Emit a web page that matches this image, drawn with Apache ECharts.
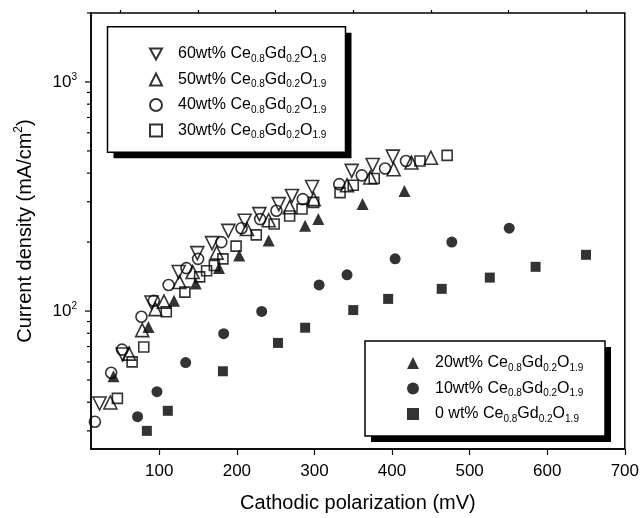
<!DOCTYPE html>
<html><head><meta charset="utf-8">
<script src="https://cdn.jsdelivr.net/npm/echarts@6/dist/echarts.min.js"></script>
<style>html,body{margin:0;padding:0;background:#fff}#c{width:642px;height:518px}</style>
</head><body><div id="c"></div><script>
// ---- data ----
const names = ['60wt% Ce0.8Gd0.2O1.9','50wt% Ce0.8Gd0.2O1.9','40wt% Ce0.8Gd0.2O1.9','30wt% Ce0.8Gd0.2O1.9',
               '20wt% Ce0.8Gd0.2O1.9','10wt% Ce0.8Gd0.2O1.9','0 wt% Ce0.8Gd0.2O1.9'];
const x60 = [23,53,90,125,149,168,189,210,229,254,271,297,348,375,401];
const y60 = [39.5,64.6,109,148,179,198,224,248,265,293,318,348,409,434,472];
const x50 = [37,61,78,95,106,126,143,174,213,241,268,299,342,372,402,425,450];
const y50 = [39.9,65.2,82.6,102,110,134,148,180,228,249,284,308,354,383,416,445,467];
const x40 = [17,38,52,77,93,112,135,150,180,206,230,251,285,332,361,391,418];
const y40 = [32.9,53.8,67.9,94.4,111,130,154,169,200,230,252,274,308,358,391,419,452];
const x30 = [46,65,80,109,133,152,161,171,182,199,225,248,268,284,299,333,350,377,436,471];
const y30 = [41.6,60,69.7,99.3,121,141,150,158,169,192,215,240,260,279,298,329,354,379,452,478];
const x20 = [41,86,119,147,177,203,241,288,305,362,416];
const y20 = [51.9,85.2,111,132,154,175,203,236,252,293,334];
const x10 = [72,97,134,183,232,306,342,404,477,551];
const y10 = [34.6,44.5,59.6,79.7,99.6,130,144,169,200,230];
const x0 = [84,111,182,253,288,350,395,464,526,585,650];
const y0 = [30,36.7,54.6,72.6,84.6,101,113,125,140,156,176];

const xMin = 12, xMax = 700, yMin = 25, yMax = 2000;
const xMajorTicks = [100,200,300,400,500,600,700];
const xMinorTicks = [50,150,250,350,450,550,650];
const yMajorTicks = [100,1000];
const yMinorTicks = [30,40,50,60,70,80,90,200,300,400,500,600,700,800,900,2000];

// ---- chart ----
const FONT = 'Liberation Sans';
const zip = (xs, ys) => xs.map((x, i) => [x, ys[i]]);
const openStyle = {color: 'rgba(0,0,0,0)', borderColor: '#000', borderWidth: 1.6};
const fillStyle = {color: '#000', borderColor: '#000', borderWidth: 0};
const mk = (name, data, symbol, size, style, rot) => ({
  name, type: 'scatter', data, symbol, symbolSize: size, symbolRotate: rot || 0,
  itemStyle: style, z: 3, emphasis: {disabled: true}
});
const tickSeries = (vals, len) => ({
  type: 'custom', data: vals.map(v => [xMin, v]), clip: false, silent: true, z: 5,
  renderItem: (p, api) => {
    const pt = api.coord([api.value(0), api.value(1)]);
    return {type: 'line', shape: {x1: pt[0] - len, y1: pt[1], x2: pt[0], y2: pt[1]},
            style: {stroke: '#000', lineWidth: 1.2}};
  }
});
const legendFmt = n => {
  const pre = n.split(' Ce')[0];
  return `{m|${pre} Ce}{s|0.8}{m|Gd}{s|0.2}{m|O}{s|1.9}`;
};
const legendText = {
  fontFamily: FONT, color: '#000', padding: [0, 0, 0, 11],
  rich: {
    m: {fontSize: 16, lineHeight: 22, fontFamily: FONT, color: '#000'},
    s: {fontSize: 10, padding: [10, 0, 0, 0], fontFamily: FONT, color: '#000'}
  }
};
const downTri = 'path://M0,0L10,0L5,9Z';
const chart = echarts.init(document.getElementById('c'), null, {renderer: 'canvas'});
chart.setOption({
  animation: false,
  backgroundColor: '#fff',
  grid: {left: 91, right: 17, top: 13, bottom: 67, show: true, borderColor: '#000', borderWidth: 1.5, backgroundColor: 'transparent'},
  xAxis: [{
    type: 'value', min: xMin, max: xMax, splitLine: {show: false},
    axisLine: {lineStyle: {color: '#000', width: 1.5}},
    axisTick: {customValues: xMajorTicks, length: 6, lineStyle: {color: '#000', width: 1.2}},
    axisLabel: {customValues: xMajorTicks, margin: 14, color: '#000', fontSize: 17, fontFamily: FONT},
    name: 'Cathodic polarization (mV)', nameLocation: 'middle', nameGap: 44,
    nameTextStyle: {fontSize: 20, fontFamily: FONT, color: '#000'}
  }, {
    type: 'value', min: xMin, max: xMax, splitLine: {show: false},
    axisLine: {show: false}, axisLabel: {show: false},
    axisTick: {customValues: xMinorTicks, length: 3, lineStyle: {color: '#000', width: 1.2}}
  }],
  yAxis: [{
    type: 'log', logBase: 10, min: yMin, max: yMax, splitLine: {show: false},
    axisLine: {lineStyle: {color: '#000', width: 1.5}},
    axisTick: {show: false}, minorTick: {show: false},
    axisLabel: {
      margin: 14, color: '#000', fontSize: 17, fontFamily: FONT, showMinLabel: false, showMaxLabel: false,
      formatter: v => {
        const e = Math.log10(v);
        return Math.abs(e - Math.round(e)) < 1e-6 ? '10{s|' + Math.round(e) + '}' : '';
      },
      rich: {s: {fontSize: 10, padding: [0, 0, 10, 0], fontFamily: FONT, color: '#000'}}
    },
    name: 'Current density (mA/cm{s|2})', nameLocation: 'middle', nameGap: 54,
    nameTextStyle: {fontSize: 20, fontFamily: FONT, color: '#000',
      rich: {s: {fontSize: 12, padding: [0, 0, 12, 0], fontFamily: FONT, color: '#000'}}}
  }],
  legend: [{
    data: [{name: names[0], icon: downTri}].concat(names.slice(1, 4)), orient: 'vertical', left: 144, top: 41, itemGap: 7.5,
    itemWidth: 12, itemHeight: 12, formatter: legendFmt, textStyle: legendText,
    selectedMode: false, z: 10
  }, {
    data: names.slice(4), orient: 'vertical', left: 402, top: 350, itemGap: 7.5,
    itemWidth: 12, itemHeight: 12, formatter: legendFmt, textStyle: legendText,
    selectedMode: false, z: 10
  }],
  graphic: [
    {type: 'rect', shape: {x: 113.5, y: 32.7, width: 238, height: 125.6}, style: {fill: '#000'}, z: 6},
    {type: 'rect', shape: {x: 107.5, y: 26.7, width: 238, height: 125.6}, style: {fill: '#fff', stroke: '#000', lineWidth: 1.5}, z: 7},
    {type: 'rect', shape: {x: 371, y: 347, width: 240, height: 95}, style: {fill: '#000'}, z: 6},
    {type: 'rect', shape: {x: 365, y: 341, width: 240, height: 95}, style: {fill: '#fff', stroke: '#000', lineWidth: 1.5}, z: 7}
  ],
  series: [
    mk(names[0], zip(x60, y60), 'triangle', 13, openStyle, 180),
    mk(names[1], zip(x50, y50), 'triangle', 13, openStyle),
    mk(names[2], zip(x40, y40), 'circle', 11, openStyle),
    mk(names[3], zip(x30, y30), 'rect', 10, openStyle),
    mk(names[4], zip(x20, y20), 'triangle', 12, fillStyle),
    mk(names[5], zip(x10, y10), 'circle', 11, fillStyle),
    mk(names[6], zip(x0, y0), 'rect', 10, fillStyle),
    tickSeries(yMajorTicks, 6),
    tickSeries(yMinorTicks, 4)
  ]
});
</script></body></html>
